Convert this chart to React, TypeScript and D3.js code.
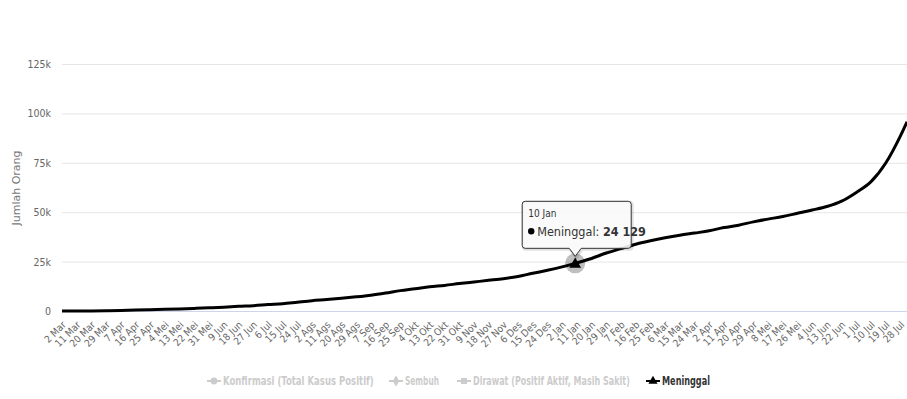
import React, { useEffect, useRef } from 'react';
import * as d3 from 'd3';

// cumulative deaths (Meninggal)
const dates = [
  '2020-03-02', '2020-03-11', '2020-03-20', '2020-03-29', '2020-04-07', '2020-04-16', '2020-04-25',
  '2020-05-04', '2020-05-13', '2020-05-22', '2020-05-31', '2020-06-09', '2020-06-18', '2020-06-27',
  '2020-07-06', '2020-07-15', '2020-07-24', '2020-08-02', '2020-08-11', '2020-08-20', '2020-08-29',
  '2020-09-07', '2020-09-16', '2020-09-25', '2020-10-04', '2020-10-13', '2020-10-22', '2020-10-31',
  '2020-11-09', '2020-11-18', '2020-11-27', '2020-12-06', '2020-12-15', '2020-12-24', '2021-01-02',
  '2021-01-10', '2021-01-20', '2021-01-29', '2021-02-07', '2021-02-16', '2021-02-25', '2021-03-06',
  '2021-03-15', '2021-03-24', '2021-04-02', '2021-04-11', '2021-04-20', '2021-04-29', '2021-05-08',
  '2021-05-17', '2021-05-26', '2021-06-04', '2021-06-13', '2021-06-22', '2021-07-01', '2021-07-10',
  '2021-07-19', '2021-07-28', '2021-08-01'
];
const meninggal = [
  0, 1, 32, 114, 240, 496, 689,
  864, 1043, 1326, 1613, 1923, 2373, 2683,
  3241, 3710, 4459, 5193, 5765, 6418, 7169,
  8025, 9100, 10308, 11253, 12268, 12959, 13869,
  14689, 15503, 16315, 17479, 19111, 20589, 22329,
  24129, 26590, 29331, 31556, 33788, 35518, 37026,
  38329, 39447, 40581, 42227, 43424, 45116, 46496,
  47823, 49455, 51095, 52879, 55594, 60027, 65457,
  74920, 88659, 95723
];

const bulan = ['Jan', 'Feb', 'Mar', 'Apr', 'Mei', 'Jun', 'Jul', 'Ags', 'Sep', 'Okt', 'Nov', 'Des'];
const yTicks = [0, 25000, 50000, 75000, 100000, 125000];
const tickStart = '2020-03-02';
const tickEnd = '2021-07-29';
const tickStep = 9;

const legendItems = ['Konfirmasi (Total Kasus Positif)', 'Sembuh', 'Dirawat (Positif Aktif, Masih Sakit)', 'Meninggal'];
const legendSymbols = ['circle', 'diamond', 'square', 'triangle'];
const legendActive = [false, false, false, true];

const tooltipDate = '2021-01-10';

const W = 907, H = 399;
const narrow = '"DejaVu Sans Condensed", "Liberation Sans Narrow", sans-serif';

export default function App() {
  const ref = useRef<SVGSVGElement>(null);

  useEffect(() => {
    const svg = d3.select(ref.current);
    svg.selectAll('*').remove();

    const parse = d3.utcParse('%Y-%m-%d');
    const data = dates.map((d, i) => ({ date: parse(d)!, value: meninggal[i] }));

    const left = 62, right = 907, top = 64, bottom = 311;

    const x = d3.scaleUtc()
      .domain([parse(dates[0])!, parse(dates[dates.length - 1])!])
      .range([left, right]);
    const y = d3.scaleLinear().domain([0, 125000]).range([bottom, top]);

    // grid
    svg.append('g')
      .selectAll('line')
      .data(yTicks.slice(1))
      .join('line')
      .attr('x1', left).attr('x2', W)
      .attr('y1', d => y(d) + 0.5).attr('y2', d => y(d) + 0.5)
      .attr('stroke', '#e6e6e6');

    // y labels
    svg.append('g')
      .selectAll('text')
      .data(yTicks)
      .join('text')
      .attr('x', 51).attr('y', d => y(d) + 4)
      .attr('text-anchor', 'end')
      .attr('font-family', narrow).attr('font-size', 10.5)
      .attr('fill', '#666666')
      .text(d => d === 0 ? '0' : d / 1000 + 'k');

    svg.append('text')
      .attr('transform', `translate(20,188) rotate(-90)`)
      .attr('text-anchor', 'middle')
      .attr('font-family', '"DejaVu Sans", sans-serif').attr('font-size', 11)
      .attr('fill', '#777')
      .text('Jumlah Orang');

    // x axis
    const fmt = (d: Date) => d.getUTCDate() + ' ' + bulan[d.getUTCMonth()];
    const xAxis = d3.axisBottom(x)
      .tickValues(d3.utcDay.range(parse(tickStart)!, parse(tickEnd)!, tickStep))
      .tickFormat(d => fmt(d as Date))
      .tickSize(0);
    const gx = svg.append('g').attr('transform', `translate(0,${bottom + 0.5})`).call(xAxis);
    gx.select('.domain').attr('stroke', '#ccd6eb').attr('d', `M${left},0H${W}`);
    gx.selectAll('text')
      .attr('font-family', narrow).attr('font-size', 10)
      .attr('fill', '#666666')
      .attr('text-anchor', 'end')
      .attr('dy', null).attr('y', 0)
      .attr('transform', 'translate(4,14) rotate(-45)');

    // line
    const line = d3.line<{ date: Date; value: number }>()
      .x(d => x(d.date)).y(d => y(d.value))
      .curve(d3.curveMonotoneX);
    svg.append('path')
      .datum(data)
      .attr('d', line)
      .attr('fill', 'none')
      .attr('stroke', '#000')
      .attr('stroke-width', 3)
      .attr('stroke-linejoin', 'round');

    // hovered point
    const hp = data.find(d => d.date.getTime() === parse(tooltipDate)!.getTime())!;
    const px = x(hp.date), py = y(hp.value);
    svg.append('circle').attr('cx', px).attr('cy', py).attr('r', 10).attr('fill', 'rgba(0,0,0,0.25)');
    svg.append('path')
      .attr('d', d3.symbol(d3.symbolTriangle, 60)())
      .attr('transform', `translate(${px},${py + 1})`)
      .attr('fill', '#000');

    // tooltip
    const bx = px - 53, bw = 109, by = py - 62, bh = 47;
    const tip = svg.append('g');
    const callout = `M${bx + 3},${by} H${bx + bw - 3} Q${bx + bw},${by} ${bx + bw},${by + 3} V${by + bh - 3} Q${bx + bw},${by + bh} ${bx + bw - 3},${by + bh} H${px + 6} L${px},${by + bh + 8} L${px - 6},${by + bh} H${bx + 3} Q${bx},${by + bh} ${bx},${by + bh - 3} V${by + 3} Q${bx},${by} ${bx + 3},${by} Z`;
    tip.append('path').attr('d', callout).attr('transform', 'translate(1,1)')
      .attr('fill', 'none').attr('stroke', 'rgba(0,0,0,0.12)').attr('stroke-width', 3);
    tip.append('path').attr('d', callout)
      .attr('fill', 'rgba(250,250,250,0.9)').attr('stroke', '#333').attr('stroke-width', 1);
    tip.append('text').attr('x', bx + 6).attr('y', by + 16)
      .attr('font-family', narrow).attr('font-size', 10).attr('fill', '#333')
      .text(fmt(hp.date));
    tip.append('circle').attr('cx', bx + 9).attr('cy', by + 30).attr('r', 3.2).attr('fill', '#000');
    const t2 = tip.append('text').attr('x', bx + 15).attr('y', by + 34.5)
      .attr('font-family', narrow).attr('font-size', 12.5).attr('fill', '#333');
    t2.append('tspan').text('Meninggal: ');
    t2.append('tspan').attr('font-weight', 'bold').text(d3.format(',')(hp.value).replace(',', ' '));

    // legend
    const lx = [214, 396, 464, 653];
    const lw = [151, 34, 157, 48];
    const ly = 381;
    legendItems.forEach((name, i) => {
      const col = legendActive[i] ? '#000' : '#cccccc';
      const g = svg.append('g');
      g.append('line').attr('x1', lx[i] - 7).attr('x2', lx[i] + 7)
        .attr('y1', ly).attr('y2', ly).attr('stroke', col).attr('stroke-width', 2);
      const sym = { circle: d3.symbolCircle, diamond: d3.symbolDiamond, square: d3.symbolSquare, triangle: d3.symbolTriangle }[legendSymbols[i]]!;
      g.append('path').attr('d', d3.symbol(sym, 36)()).attr('transform', `translate(${lx[i]},${ly})`).attr('fill', col);
      const tg = g.append('g');
      const t = tg.append('text').attr('x', 0).attr('y', 0)
        .attr('font-family', narrow).attr('font-size', 12).attr('font-weight', 'bold')
        .attr('fill', legendActive[i] ? '#333' : '#cccccc')
        .text(name);
      const natural = (t.node() as SVGTextElement).getComputedTextLength() || lw[i];
      tg.attr('transform', `translate(${lx[i] + 9},${ly + 4}) scale(${lw[i] / natural},1)`);
    });
  }, []);

  return (
    <svg ref={ref} width={W} height={H}
      style={{ position: 'absolute', left: 0, top: 0, background: '#fff', display: 'block' }} />
  );
}
